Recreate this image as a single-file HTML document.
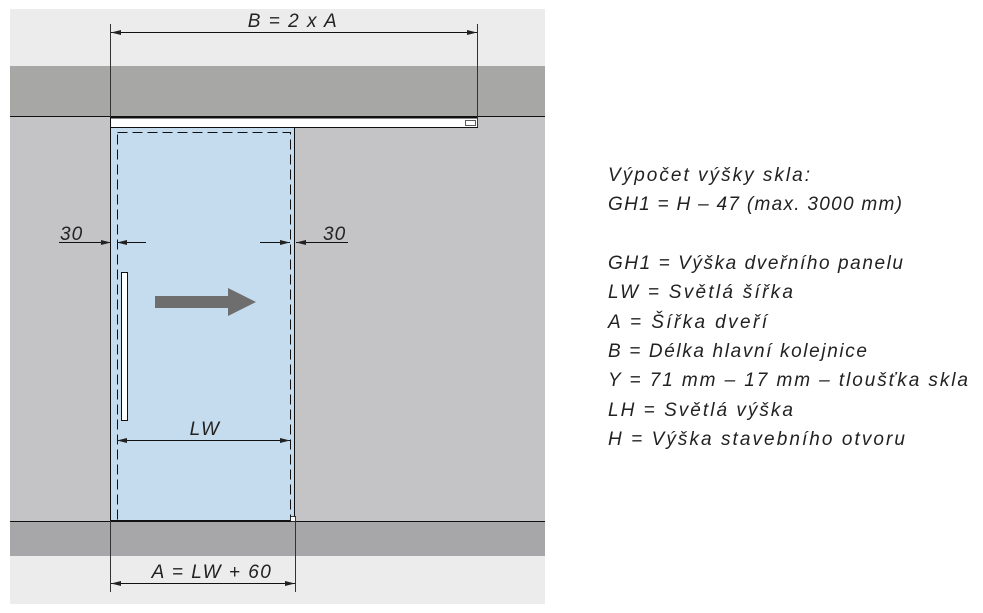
<!DOCTYPE html>
<html><head><meta charset="utf-8"><style>html,body{margin:0;padding:0;background:#fff}svg{display:block}</style></head><body>
<svg width="983" height="613" viewBox="0 0 983 613" xmlns="http://www.w3.org/2000/svg" font-family="Liberation Sans, DejaVu Sans, sans-serif" font-style="italic">
<defs>
<marker id="ar" viewBox="0 0 10 6" refX="10" refY="3" markerWidth="10" markerHeight="6" markerUnits="userSpaceOnUse" orient="auto"><path d="M0,0.5 L10,3 L0,5.5 Z" fill="#222"/></marker>
</defs>
<rect x="10" y="9" width="535" height="595" fill="#ececec"/>
<rect x="10" y="66" width="535" height="50" fill="#a7a7a6"/>
<rect x="10" y="116" width="535" height="405" fill="#c4c4c6"/>
<rect x="10" y="521" width="535" height="35" fill="#a7a6a8"/>
<line x1="10" y1="116.5" x2="545" y2="116.5" stroke="#111" stroke-width="1"/>
<line x1="10" y1="521.5" x2="545" y2="521.5" stroke="#111" stroke-width="1"/>
<!-- rail -->
<rect x="110.5" y="117.5" width="367" height="10" fill="#fff" stroke="#111" stroke-width="1"/>
<line x1="110" y1="117.5" x2="478" y2="117.5" stroke="#111" stroke-width="2"/>
<rect x="465.5" y="120.5" width="10" height="5" fill="#fff" stroke="#333" stroke-width="0.8"/>
<!-- door -->
<rect x="110.5" y="127.5" width="184" height="393" fill="#c5dbee" stroke="#111" stroke-width="1"/>
<rect x="117.5" y="132.5" width="173" height="388" fill="none" stroke="#111" stroke-width="1" stroke-dasharray="10,5"/>
<line x1="111" y1="520.5" x2="291" y2="520.5" stroke="#111"/>
<rect x="290.5" y="516.5" width="5" height="5" fill="#fff" stroke="#111" stroke-width="0.8"/>
<rect x="121.5" y="272.5" width="6" height="148" fill="#fff" stroke="#111" stroke-width="1"/>
<path d="M155,296 H228 V288 L256,302 L228,316 V308 H155 Z" fill="#6e6e6e"/>
<!-- B dim -->
<line x1="110.5" y1="24" x2="110.5" y2="117" stroke="#333" stroke-width="1"/>
<line x1="477.5" y1="24" x2="477.5" y2="127" stroke="#333" stroke-width="1"/>
<line x1="300" y1="32.5" x2="111" y2="32.5" stroke="#111" marker-end="url(#ar)"/>
<line x1="300" y1="32.5" x2="477" y2="32.5" stroke="#111" marker-end="url(#ar)"/>
<text x="293" y="27" font-size="19" text-anchor="middle" fill="#222" letter-spacing="1.5">B = 2 x A</text>
<!-- 30 left -->
<line x1="59" y1="242.5" x2="111" y2="242.5" stroke="#111" marker-end="url(#ar)"/>
<line x1="146" y1="242.5" x2="117" y2="242.5" stroke="#111" marker-end="url(#ar)"/>
<text x="60" y="240" font-size="19" fill="#222" letter-spacing="1">30</text>
<!-- 30 right -->
<line x1="260" y1="242.5" x2="290" y2="242.5" stroke="#111" marker-end="url(#ar)"/>
<line x1="348" y1="242.5" x2="296" y2="242.5" stroke="#111" marker-end="url(#ar)"/>
<text x="323" y="240" font-size="19" fill="#222" letter-spacing="1">30</text>
<!-- LW -->
<line x1="200" y1="440.5" x2="117" y2="440.5" stroke="#111" marker-end="url(#ar)"/>
<line x1="200" y1="440.5" x2="290" y2="440.5" stroke="#111" marker-end="url(#ar)"/>
<text x="205" y="435" font-size="19" text-anchor="middle" fill="#222" letter-spacing="1.5">LW</text>
<!-- A dim -->
<line x1="110.5" y1="521" x2="110.5" y2="592" stroke="#333" stroke-width="1"/>
<line x1="295.5" y1="521" x2="295.5" y2="592" stroke="#333" stroke-width="1"/>
<line x1="200" y1="583.5" x2="111" y2="583.5" stroke="#111" marker-end="url(#ar)"/>
<line x1="200" y1="583.5" x2="295" y2="583.5" stroke="#111" marker-end="url(#ar)"/>
<text x="212" y="578" font-size="19" text-anchor="middle" fill="#222" letter-spacing="1.5">A = LW + 60</text>
<!-- legend -->
<g font-size="19" fill="#222" lengthAdjust="spacingAndGlyphs">
<text x="608" y="181" textLength="202">Výpočet výšky skla:</text>
<text x="608" y="210" textLength="294">GH1 = H – 47 (max. 3000 mm)</text>
<text x="608" y="269" textLength="295">GH1 = Výška dveřního panelu</text>
<text x="608" y="298" textLength="185">LW = Světlá šířka</text>
<text x="608" y="328" textLength="159">A = Šířka dveří</text>
<text x="608" y="357" textLength="259">B = Délka hlavní kolejnice</text>
<text x="608" y="386" textLength="360">Y = 71 mm – 17 mm – tloušťka skla</text>
<text x="608" y="416" textLength="185">LH = Světlá výška</text>
<text x="608" y="445" textLength="297">H = Výška stavebního otvoru</text>
</g>
</svg>
</body></html>
